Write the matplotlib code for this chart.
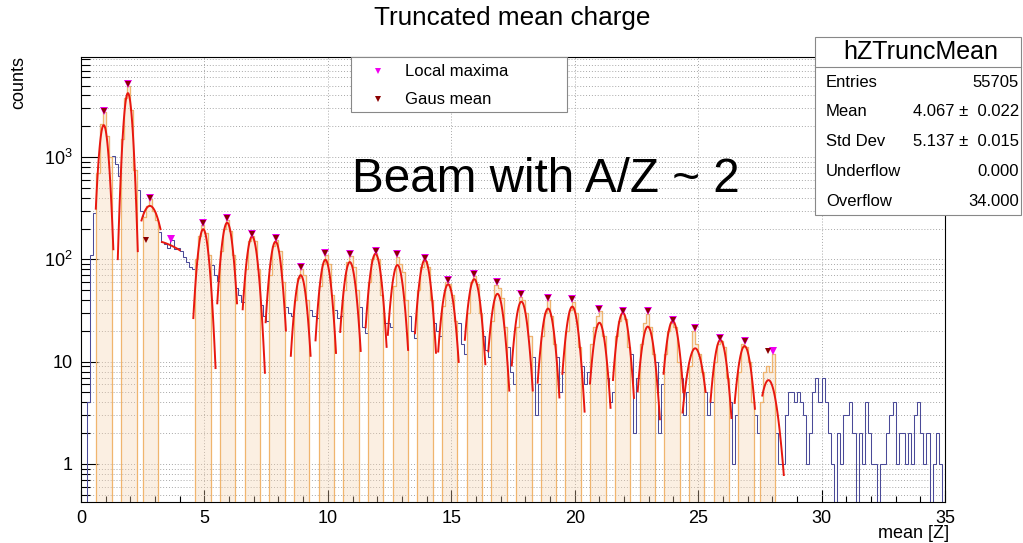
import numpy as np
import matplotlib
matplotlib.use("Agg")
import matplotlib.pyplot as plt
from matplotlib.patches import Rectangle
from matplotlib.lines import Line2D

plt.rcParams['font.family'] = ['Liberation Sans', 'DejaVu Sans']
plt.rcParams['mathtext.fontset'] = 'custom'
plt.rcParams['mathtext.rm'] = 'Liberation Sans'
plt.rcParams['mathtext.it'] = 'Liberation Sans:italic'

# ---------------- data ----------------
x_min, x_max, n_bins = 0.0, 35.0, 280   # bin width 0.125

# histogram counts, 8 bins per unit of Z
counts = [
    0, 0, 4, 110, 283, 700, 2100, 2750,          # 0-1
    1600, 1000, 1020, 850, 650, 1500, 3800, 5000,  # 1-2
    2900, 750, 480, 300, 260, 330, 390, 300,     # 2-3
    240, 185, 148, 140, 130, 155, 125, 128,      # 3-4
    120, 105, 95, 85, 80, 100, 170, 215,         # 4-5
    180, 110, 88, 70, 62, 120, 200, 240,         # 5-6
    190, 110, 52, 45, 38, 80, 150, 170,          # 6-7
    150, 80, 36, 28, 25, 70, 135, 155,           # 7-8
    120, 60, 34, 30, 28, 40, 65, 80,             # 8-9
    70, 40, 32, 28, 27, 55, 90, 110,             # 9-10
    90, 45, 32, 27, 28, 50, 95, 108,             # 10-11
    85, 50, 34, 22, 19, 60, 100, 115,            # 11-12
    100, 45, 24, 24, 22, 55, 105, 90,            # 12-13
    75, 40, 28, 20, 17, 50, 85, 97,              # 13-14
    85, 40, 24, 20, 18, 35, 60, 58,              # 14-15
    45, 25, 24, 15, 12, 30, 60, 68,              # 15-16
    58, 30, 18, 13, 11, 25, 56, 52,              # 16-17
    42, 22, 14, 8, 6, 22, 43, 40,                # 17-18
    30, 18, 11, 3, 6, 18, 30, 40,                # 18-19
    28, 15, 11, 5, 8, 20, 32, 38,                # 19-20
    30, 14, 9, 6, 8, 15, 22, 28,                 # 20-21
    31, 18, 7, 4, 5, 18, 25, 30,                 # 21-22
    26, 14, 12, 2, 7, 15, 24, 29,                # 22-23
    22, 12, 10, 2, 6, 12, 20, 24,                # 23-24
    22, 10, 7, 3, 5, 9, 20, 15,                  # 24-25
    12, 8, 5, 3, 4, 10, 15, 16,                  # 25-26
    14, 7, 4, 1, 3, 8, 15, 14,                   # 26-27
    10, 4, 3, 2, 4, 8, 9, 8,                     # 27-28
    12, 2, 1, 1, 3, 5, 5, 4,                     # 28-29
    5, 4, 3, 1, 2, 5, 7, 4,                      # 29-30
    7, 4, 2, 1, 0, 2, 1, 3,                      # 30-31
    3, 4, 2, 0, 2, 1, 4, 2,                      # 31-32
    1, 1, 0, 1, 1, 2, 3, 4,                      # 32-33
    1, 2, 2, 1, 2, 1, 3, 4,                      # 33-34
    2, 1, 2, 0, 1, 2, 1, 0,                      # 34-35
]

# peak windows (start of window, 5 bins each)
window_starts = [0.625, 1.625, 2.5, 4.625, 5.625, 6.625, 7.625, 8.625, 9.625,
                 10.625, 11.625, 12.625, 13.625, 14.625, 15.625, 16.625, 17.625,
                 18.625, 19.625, 20.625, 21.625, 22.625, 23.625, 24.625, 25.625,
                 26.625, 27.5]
window_nbins = 5

# gaussian fits
fit_amp = [2050, 4210, 333, 156, 197, 228, 167, 149, 70, 99, 94, 113, 88, 99,
           57, 64, 46, 38.6, 33, 34.5, 24, 30, 22, 25, 13.5, 16.3, 14.2, 6.6]
fit_mean = [0.92, 1.90, 2.79, 2.63, 4.95, 5.92, 6.93, 7.88, 8.90, 9.90, 10.89,
            11.93, 12.82, 13.93, 14.87, 15.93, 16.87, 17.84, 18.92, 19.90,
            21.00, 21.95, 22.96, 23.97, 24.88, 25.90, 26.88, 27.85]
fit_sigma = [0.165, 0.15, 0.42, 1.98, 0.20, 0.21, 0.21, 0.21, 0.21, 0.21, 0.22,
             0.22, 0.22, 0.22, 0.23, 0.23, 0.23, 0.23, 0.23, 0.23, 0.23, 0.23,
             0.24, 0.24, 0.30, 0.24, 0.25, 0.30]
fit_lo = [0.60, 1.49, 2.45, 3.28, 4.55, 5.52, 6.55, 7.48, 8.50, 9.50, 10.50,
          11.53, 12.43, 13.53, 14.47, 15.55, 16.50, 17.45, 18.50, 19.50, 20.62,
          21.55, 22.55, 23.60, 24.37, 25.50, 26.48, 27.60]
fit_hi = [1.31, 2.30, 3.22, 4.00, 5.45, 6.32, 7.45, 8.30, 9.30, 10.33, 11.33,
          12.38, 13.25, 14.38, 15.30, 16.38, 17.35, 18.30, 19.38, 20.40, 21.45,
          22.40, 23.45, 24.40, 25.30, 26.35, 27.30, 28.47]

# markers
locmax_x = [0.92, 1.90, 2.79, 3.64, 4.95, 5.92, 6.93, 7.88, 8.90, 9.90, 10.89,
            11.93, 12.82, 13.93, 14.87, 15.93, 16.87, 17.84, 18.92, 19.90,
            21.00, 21.95, 22.96, 23.97, 24.88, 25.90, 26.88, 28.03]
locmax_y = [2820, 5150, 400, 158, 228, 252, 177, 163, 85, 116, 114, 121, 112,
            102, 63, 72, 60.5, 46, 42, 41, 32.7, 31.3, 31.3, 25.6, 21.2, 17,
            15.9, 12.7]
gaus_x = [0.92, 1.90, 2.79, 2.63, 4.95, 5.92, 6.93, 7.88, 8.90, 9.90, 10.89,
          11.93, 12.82, 13.93, 14.87, 15.93, 16.87, 17.84, 18.92, 19.90, 21.00,
          21.95, 22.96, 23.97, 24.88, 25.90, 26.88, 27.85]
gaus_y = [2820, 5150, 400, 155, 228, 252, 177, 163, 85, 116, 114, 121, 112,
          102, 63, 72, 60.5, 46, 42, 41, 32.7, 31.3, 31.3, 25.6, 21.2, 17,
          15.9, 12.7]

stats_labels = ["Entries", "Mean", "Std Dev", "Underflow", "Overflow"]
stats_values = ["55705", "4.067 \u00b1  0.022", "5.137 \u00b1  0.015", "0.000", "34.000"]

y_lim = (0.425, 9500)
x_major = [0, 5, 10, 15, 20, 25, 30, 35]
y_major = [1, 10, 100, 1000]
y_major_labels = ["1", "10", r"$\mathregular{10^{2}}$", r"$\mathregular{10^{3}}$"]

# ---------------- plot ----------------
W, H = 1023, 543
fig = plt.figure(figsize=(W / 100, H / 100), dpi=100)
ax = fig.add_axes([81 / W, 1 - 502 / H, (945 - 81) / W, (502 - 57) / H])

edges = np.linspace(x_min, x_max, n_bins + 1)
cnt = np.array(counts, dtype=float)
floor = 1e-3
cnt_draw = np.where(cnt > 0, cnt, floor)

# orange window histogram (zeros outside windows)
width = (x_max - x_min) / n_bins
win = np.zeros(n_bins)
for s in window_starts:
    i0 = int(round((s - x_min) / width))
    win[i0:i0 + window_nbins] = cnt[i0:i0 + window_nbins]
win_draw = np.where(win > 0, win, floor)

ax.stairs(cnt_draw, edges, baseline=floor, color='#4a4a98', lw=0.75, zorder=2)
ax.stairs(win_draw, edges, baseline=floor, fill=True, color='#f6d2ad',
          alpha=0.35, zorder=3, lw=0)
ax.stairs(win_draw, edges, baseline=floor, color='#f0b56e', lw=0.9, zorder=4)

for a, m, s, lo, hi in zip(fit_amp, fit_mean, fit_sigma, fit_lo, fit_hi):
    xx = np.linspace(lo, hi, 120)
    ax.plot(xx, a * np.exp(-0.5 * ((xx - m) / s) ** 2), color='#e8170f',
            lw=1.4, zorder=5)

ax.plot(locmax_x, locmax_y, 'v', color='#f000f0', ms=6, mew=0, zorder=6)
ax.plot(gaus_x, gaus_y, 'v', color='#8b0000', ms=4.2, mew=0, zorder=7)

ax.set_xlim(x_min, x_max)
ax.set_yscale('log')
ax.set_ylim(*y_lim)

ax.set_xticks(x_major)
ax.set_xticklabels([str(v) for v in x_major])
ax.set_xticks(np.arange(0, 36, 1), minor=True)
ax.set_yticks(y_major)
ax.set_yticklabels(y_major_labels)
ymin_ticks = [d * m for d in (0.1, 1, 10, 100, 1000) for m in range(2, 10)]
ymin_ticks = [v for v in ymin_ticks if y_lim[0] <= v <= y_lim[1]]
ax.set_yticks(ymin_ticks, minor=True)
ax.yaxis.set_minor_formatter(matplotlib.ticker.NullFormatter())

ax.tick_params(axis='both', which='both', direction='in', labelsize=13,
               colors='black')
ax.tick_params(axis='x', which='major', length=9, width=0.8, pad=6)
ax.tick_params(axis='x', which='minor', length=4.5, width=0.8)
ax.tick_params(axis='y', which='major', length=12, width=0.8, pad=6)
ax.tick_params(axis='y', which='minor', length=6.5, width=0.8)

ax.grid(True, axis='x', which='major', color='#a8a8a8', ls=(0, (1, 2)), lw=0.7)
ax.grid(True, axis='y', which='both', color='#a8a8a8', ls=(0, (1, 2)), lw=0.7)
ax.set_axisbelow(True)
for sp in ax.spines.values():
    sp.set_linewidth(0.8)

# texts
fig.text(512 / W, 1 - 18 / H, "Truncated mean charge", ha='center',
         va='center', fontsize=18.8)
fig.text(19 / W, 1 - 82 / H, "counts", rotation=90, ha='center', va='center',
         fontsize=13)
fig.text(949 / W, 1 - 534 / H, "mean [Z]", ha='right', va='center', fontsize=13)
fig.text(352 / W, 1 - 180 / H, "Beam with A/Z ~ 2", ha='left', va='center',
         fontsize=34.3)

# legend box
fig.add_artist(Rectangle((351 / W, 1 - 112 / H), 216 / W, 55 / H,
                         transform=fig.transFigure, facecolor='white',
                         edgecolor='#888888', lw=0.8, zorder=10))
leg_items = [("Local maxima", '#f000f0', 71), ("Gaus mean", '#8b0000', 99)]
for lab, col, yy in leg_items:
    fig.add_artist(Line2D([378 / W], [1 - yy / H], marker='v', color=col,
                          ms=4.5, mew=0, ls='none', transform=fig.transFigure,
                          zorder=11))
    fig.text(405 / W, 1 - yy / H, lab, ha='left', va='center', fontsize=12,
             zorder=11)

# stats box
fig.add_artist(Rectangle((815 / W, 1 - 215 / H), (1021 - 815) / W,
                         (215 - 37) / H, transform=fig.transFigure,
                         facecolor='white', edgecolor='#888888', lw=0.8,
                         zorder=10))
fig.add_artist(Line2D([815 / W, 1021 / W], [1 - 67 / H, 1 - 67 / H],
                      color='#888888', lw=0.8, transform=fig.transFigure,
                      zorder=11))
fig.text(921 / W, 1 - 52 / H, "hZTruncMean", ha='center', va='center',
         fontsize=18, zorder=11)
row_y = [82, 111.5, 141, 171, 201.5]
for lab, val, yy in zip(stats_labels, stats_values, row_y):
    fig.text(826 / W, 1 - yy / H, lab, ha='left', va='center', fontsize=12,
             zorder=11)
    fig.text(1019 / W, 1 - yy / H, val, ha='right', va='center', fontsize=12,
             zorder=11)

fig.savefig("out.png", dpi=100)
